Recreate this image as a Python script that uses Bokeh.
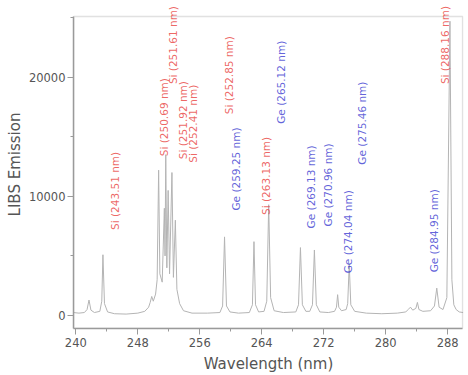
from math import pi
from bokeh.plotting import figure
from bokeh.core.properties import value
from bokeh.models import (ColumnDataSource, LabelSet, SingleIntervalTicker, Range1d,
                          BasicTickFormatter, BoxAnnotation)
from bokeh.embed import file_html
from bokeh.resources import INLINE

# Spectrum (wavelength in nm, LIBS emission counts)
wavelength = [239.7, 240.4, 241.1, 241.45, 241.7, 241.95, 242.4, 243.1, 243.35, 243.5,
              243.7, 244.1, 245.0, 246.5, 248.0, 248.9, 249.4, 249.6, 249.8, 250.0,
              250.3, 250.5, 250.69, 250.85, 251.15, 251.43, 251.52, 251.61, 251.75, 251.92,
              252.1, 252.41, 252.6, 252.85, 253.05, 253.4, 253.9, 255.0, 257.0, 258.6,
              258.95, 259.2, 259.45, 259.9, 261.0, 262.4, 262.8, 263.0, 263.2, 263.6,
              264.3, 264.65, 264.9, 265.15, 265.6, 266.8, 268.4, 268.75, 269.0, 269.25,
              269.7, 270.2, 270.55, 270.8, 271.05, 271.5, 272.6, 273.4, 273.65, 273.8,
              273.95, 274.3, 274.9, 275.1, 275.3, 275.5, 276.0, 277.5, 279.5, 281.5,
              282.6, 282.9, 283.2, 283.5, 283.9, 284.1, 284.3, 284.8, 285.8, 286.3,
              286.6, 286.9, 287.4, 287.9, 288.3, 288.55, 288.8, 289.1, 289.5, 290.0]
intensity = [250, 200, 250, 500, 1300, 450, 250, 350, 1200, 5100,
             1000, 300, 150, 120, 200, 350, 700, 1100, 1600, 1200,
             1800, 3000, 12200, 3500, 2800, 9000, 5000, 13500, 4000, 10500,
             3500, 12000, 3200, 8000, 2200, 1000, 400, 200, 200, 250,
             800, 6600, 800, 300, 200, 250, 900, 6200, 900, 300,
             350, 1200, 9300, 1500, 400, 250, 300, 900, 5700, 900,
             350, 350, 900, 5500, 900, 300, 250, 350, 700, 1750,
             700, 400, 500, 1000, 4300, 900, 350, 200, 150, 200,
             300, 500, 700, 450, 600, 1100, 500, 350, 400, 800,
             2300, 700, 500, 1500, 24700, 3000, 900, 500, 300, 250]

# Line labels
si_text = ["Si (243.51 nm)", "Si (250.69 nm)", "Si (251.61 nm)", "Si (251.92 nm)",
           "Si (252.41 nm)", "Si (252.85 nm)", "Si (263.13 nm)", "Si (288.16 nm)"]
si_x = [245.0, 251.35, 252.5, 253.9, 255.1, 259.75, 264.5, 287.6]
si_y = [10460, 16650, 22700, 16400, 16100, 20170, 11720, 22700]

ge_text = ["Ge (259.25 nm)", "Ge (265.12 nm)", "Ge (269.13 nm)", "Ge (270.96 nm)",
           "Ge (274.04 nm)", "Ge (275.46 nm)", "Ge (284.95 nm)"]
ge_x = [260.65, 266.45, 270.3, 272.5, 275.1, 276.9, 286.2]
ge_y = [12300, 19580, 10800, 10960, 7030, 16150, 7110]

x_ticks_interval = 8
y_ticks_interval = 10000
x_lo, x_hi = 239.7, 289.94
y_lo, y_hi = -1090, 25100

p = figure(width=468, height=375, x_range=Range1d(x_lo, 290.05),
           y_range=Range1d(y_lo, 26440), output_backend="svg",
           toolbar_location=None, min_border_left=73, min_border_right=5,
           min_border_top=0, min_border_bottom=46)
p.grid.visible = False
p.outline_line_color = None
p.background_fill_color = "white"
p.border_fill_color = "white"

# plot box
p.add_layout(BoxAnnotation(left=x_lo, right=x_hi, bottom=y_lo, top=y_hi,
                           fill_alpha=0, line_color="#9a9a9a", line_width=1.5))

p.line(wavelength, intensity, line_color="#b4b4b4", line_width=1)

si_src = ColumnDataSource(dict(x=si_x, y=si_y, text=si_text))
ge_src = ColumnDataSource(dict(x=ge_x, y=ge_y, text=ge_text))
for src, col in ((si_src, "#e8403c"), (ge_src, "#3a3ad0")):
    ls = LabelSet(x="x", y="y", text="text", source=src, angle=pi / 2,
                  text_align="center", text_baseline="middle",
                  text_font_size="10.5px", text_font=value("DejaVu Sans"),
                  text_color=col, text_alpha=0.8)
    p.add_layout(ls)

p.xaxis.ticker = SingleIntervalTicker(interval=x_ticks_interval, num_minor_ticks=2)
p.yaxis.ticker = SingleIntervalTicker(interval=y_ticks_interval, num_minor_ticks=2)
p.yaxis.formatter = BasicTickFormatter(use_scientific=False)
p.yaxis.bounds = (y_lo, y_hi)
p.xaxis.bounds = (x_lo, x_hi)
p.xaxis.axis_label = "Wavelength (nm)"
p.yaxis.axis_label = "LIBS Emission"
for ax in (p.xaxis, p.yaxis):
    ax.axis_line_color = "#9a9a9a"
    ax.axis_line_width = 1.5
    ax.major_tick_line_color = "#9a9a9a"
    ax.minor_tick_line_color = "#9a9a9a"
    ax.major_tick_in = 0
    ax.major_tick_out = 6
    ax.minor_tick_in = 0
    ax.minor_tick_out = 3
    ax.major_label_text_font = "DejaVu Sans"
    ax.major_label_text_font_size = "11.5px"
    ax.major_label_text_color = "#555555"
    ax.axis_label_text_font = "DejaVu Sans"
    ax.axis_label_text_font_size = "15px"
    ax.axis_label_text_font_style = "normal"
    ax.axis_label_text_color = "#555555"
p.xaxis.major_label_standoff = 3
p.xaxis.axis_label_standoff = 5
p.yaxis.major_label_standoff = 2
p.yaxis.axis_label_standoff = 2

open("out.html", "w").write(file_html(p, INLINE))
